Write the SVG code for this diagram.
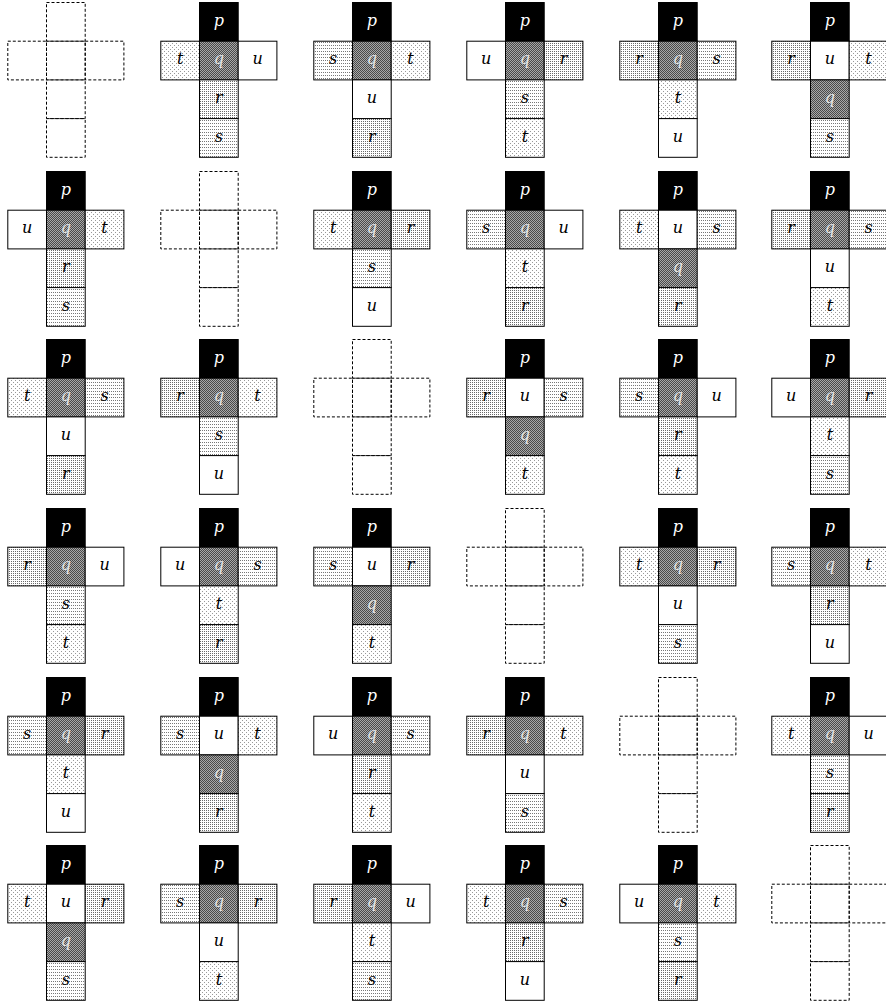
<svg xmlns="http://www.w3.org/2000/svg" width="886" height="1007" viewBox="0 0 886 1007">
<style>
.k{width:38.7px;height:38.7px;stroke:#000;stroke-width:1}
.d{width:38.7px;height:38.7px;fill:none;stroke:#000;stroke-width:1;stroke-dasharray:3 2}
.fp{fill:#000}.fq{fill:url(#pq)}.fr{fill:url(#pr)}.fs{fill:url(#ps)}.ft{fill:url(#pt)}.fu{fill:#fff}
text{font-family:"DejaVu Serif",serif;font-style:italic;font-size:16px;text-anchor:middle;fill:#000}
text.w{fill:#fff}text.g{fill:#e4e4e4}
</style>
<defs>
<pattern id="pq" x="0.5" y="0.5" width="2" height="2" patternUnits="userSpaceOnUse"><path d="M0 0h2v2h-2z" fill="#a8a8a8"/><path d="M0 0h1v1h-1zM1 1h1v1h-1z" fill="#4a4a4a"/></pattern>
<pattern id="pr" x="0.5" y="0.5" width="2" height="2" patternUnits="userSpaceOnUse"><path d="M0 0h2v2h-2z" fill="#fff"/><path d="M0 0h1v1h-1z" fill="#6a6a6a"/></pattern>
<pattern id="ps" x="0.5" y="0.5" width="2" height="3" patternUnits="userSpaceOnUse"><path d="M0 0h2v3h-2z" fill="#fff"/><path d="M0 0h1v1h-1z" fill="#777"/></pattern>
<pattern id="pt" x="0.5" y="0.5" width="4" height="4" patternUnits="userSpaceOnUse"><path d="M0 0h4v4h-4z" fill="#fff"/><path d="M0 0h1v1h-1zM2 2h1v1h-1z" fill="#999"/></pattern>
</defs>

<!-- Row 1 -->
<g id="r1c1" transform="translate(46.5,2.5)"><rect class="d"/><rect class="d" x="-38.7" y="38.7"/><rect class="d" y="38.7"/><rect class="d" x="38.7" y="38.7"/><rect class="d" y="77.4"/><rect class="d" y="116.1"/></g>
<g id="r1c2" transform="translate(199.5,2.5)"><rect class="k fp"/><rect class="k ft" x="-38.7" y="38.7"/><rect class="k fq" y="38.7"/><rect class="k fu" x="38.7" y="38.7"/><rect class="k fr" y="77.4"/><rect class="k fs" y="116.1"/><text class="w" x="19.35" y="23">p</text><text x="-19.35" y="61.7">t</text><text class="g" x="19.35" y="61.7">q</text><text x="58.05" y="61.7">u</text><text x="19.35" y="100.4">r</text><text x="19.35" y="139.1">s</text></g>
<g id="r1c3" transform="translate(352.5,2.5)"><rect class="k fp"/><rect class="k fs" x="-38.7" y="38.7"/><rect class="k fq" y="38.7"/><rect class="k ft" x="38.7" y="38.7"/><rect class="k fu" y="77.4"/><rect class="k fr" y="116.1"/><text class="w" x="19.35" y="23">p</text><text x="-19.35" y="61.7">s</text><text class="g" x="19.35" y="61.7">q</text><text x="58.05" y="61.7">t</text><text x="19.35" y="100.4">u</text><text x="19.35" y="139.1">r</text></g>
<g id="r1c4" transform="translate(505.5,2.5)"><rect class="k fp"/><rect class="k fu" x="-38.7" y="38.7"/><rect class="k fq" y="38.7"/><rect class="k fr" x="38.7" y="38.7"/><rect class="k fs" y="77.4"/><rect class="k ft" y="116.1"/><text class="w" x="19.35" y="23">p</text><text x="-19.35" y="61.7">u</text><text class="g" x="19.35" y="61.7">q</text><text x="58.05" y="61.7">r</text><text x="19.35" y="100.4">s</text><text x="19.35" y="139.1">t</text></g>
<g id="r1c5" transform="translate(658.5,2.5)"><rect class="k fp"/><rect class="k fr" x="-38.7" y="38.7"/><rect class="k fq" y="38.7"/><rect class="k fs" x="38.7" y="38.7"/><rect class="k ft" y="77.4"/><rect class="k fu" y="116.1"/><text class="w" x="19.35" y="23">p</text><text x="-19.35" y="61.7">r</text><text class="g" x="19.35" y="61.7">q</text><text x="58.05" y="61.7">s</text><text x="19.35" y="100.4">t</text><text x="19.35" y="139.1">u</text></g>
<g id="r1c6" transform="translate(810.5,2.5)"><rect class="k fp"/><rect class="k fr" x="-38.7" y="38.7"/><rect class="k fu" y="38.7"/><rect class="k ft" x="38.7" y="38.7"/><rect class="k fq" y="77.4"/><rect class="k fs" y="116.1"/><text class="w" x="19.35" y="23">p</text><text x="-19.35" y="61.7">r</text><text x="19.35" y="61.7">u</text><text x="58.05" y="61.7">t</text><text class="g" x="19.35" y="100.4">q</text><text x="19.35" y="139.1">s</text></g>

<!-- Row 2 -->
<g id="r2c1" transform="translate(46.5,171.5)"><rect class="k fp"/><rect class="k fu" x="-38.7" y="38.7"/><rect class="k fq" y="38.7"/><rect class="k ft" x="38.7" y="38.7"/><rect class="k fr" y="77.4"/><rect class="k fs" y="116.1"/><text class="w" x="19.35" y="23">p</text><text x="-19.35" y="61.7">u</text><text class="g" x="19.35" y="61.7">q</text><text x="58.05" y="61.7">t</text><text x="19.35" y="100.4">r</text><text x="19.35" y="139.1">s</text></g>
<g id="r2c2" transform="translate(199.5,171.5)"><rect class="d"/><rect class="d" x="-38.7" y="38.7"/><rect class="d" y="38.7"/><rect class="d" x="38.7" y="38.7"/><rect class="d" y="77.4"/><rect class="d" y="116.1"/></g>
<g id="r2c3" transform="translate(352.5,171.5)"><rect class="k fp"/><rect class="k ft" x="-38.7" y="38.7"/><rect class="k fq" y="38.7"/><rect class="k fr" x="38.7" y="38.7"/><rect class="k fs" y="77.4"/><rect class="k fu" y="116.1"/><text class="w" x="19.35" y="23">p</text><text x="-19.35" y="61.7">t</text><text class="g" x="19.35" y="61.7">q</text><text x="58.05" y="61.7">r</text><text x="19.35" y="100.4">s</text><text x="19.35" y="139.1">u</text></g>
<g id="r2c4" transform="translate(505.5,171.5)"><rect class="k fp"/><rect class="k fs" x="-38.7" y="38.7"/><rect class="k fq" y="38.7"/><rect class="k fu" x="38.7" y="38.7"/><rect class="k ft" y="77.4"/><rect class="k fr" y="116.1"/><text class="w" x="19.35" y="23">p</text><text x="-19.35" y="61.7">s</text><text class="g" x="19.35" y="61.7">q</text><text x="58.05" y="61.7">u</text><text x="19.35" y="100.4">t</text><text x="19.35" y="139.1">r</text></g>
<g id="r2c5" transform="translate(658.5,171.5)"><rect class="k fp"/><rect class="k ft" x="-38.7" y="38.7"/><rect class="k fu" y="38.7"/><rect class="k fs" x="38.7" y="38.7"/><rect class="k fq" y="77.4"/><rect class="k fr" y="116.1"/><text class="w" x="19.35" y="23">p</text><text x="-19.35" y="61.7">t</text><text x="19.35" y="61.7">u</text><text x="58.05" y="61.7">s</text><text class="g" x="19.35" y="100.4">q</text><text x="19.35" y="139.1">r</text></g>
<g id="r2c6" transform="translate(810.5,171.5)"><rect class="k fp"/><rect class="k fr" x="-38.7" y="38.7"/><rect class="k fq" y="38.7"/><rect class="k fs" x="38.7" y="38.7"/><rect class="k fu" y="77.4"/><rect class="k ft" y="116.1"/><text class="w" x="19.35" y="23">p</text><text x="-19.35" y="61.7">r</text><text class="g" x="19.35" y="61.7">q</text><text x="58.05" y="61.7">s</text><text x="19.35" y="100.4">u</text><text x="19.35" y="139.1">t</text></g>

<!-- Row 3 -->
<g id="r3c1" transform="translate(46.5,339.5)"><rect class="k fp"/><rect class="k ft" x="-38.7" y="38.7"/><rect class="k fq" y="38.7"/><rect class="k fs" x="38.7" y="38.7"/><rect class="k fu" y="77.4"/><rect class="k fr" y="116.1"/><text class="w" x="19.35" y="23">p</text><text x="-19.35" y="61.7">t</text><text class="g" x="19.35" y="61.7">q</text><text x="58.05" y="61.7">s</text><text x="19.35" y="100.4">u</text><text x="19.35" y="139.1">r</text></g>
<g id="r3c2" transform="translate(199.5,339.5)"><rect class="k fp"/><rect class="k fr" x="-38.7" y="38.7"/><rect class="k fq" y="38.7"/><rect class="k ft" x="38.7" y="38.7"/><rect class="k fs" y="77.4"/><rect class="k fu" y="116.1"/><text class="w" x="19.35" y="23">p</text><text x="-19.35" y="61.7">r</text><text class="g" x="19.35" y="61.7">q</text><text x="58.05" y="61.7">t</text><text x="19.35" y="100.4">s</text><text x="19.35" y="139.1">u</text></g>
<g id="r3c3" transform="translate(352.5,339.5)"><rect class="d"/><rect class="d" x="-38.7" y="38.7"/><rect class="d" y="38.7"/><rect class="d" x="38.7" y="38.7"/><rect class="d" y="77.4"/><rect class="d" y="116.1"/></g>
<g id="r3c4" transform="translate(505.5,339.5)"><rect class="k fp"/><rect class="k fr" x="-38.7" y="38.7"/><rect class="k fu" y="38.7"/><rect class="k fs" x="38.7" y="38.7"/><rect class="k fq" y="77.4"/><rect class="k ft" y="116.1"/><text class="w" x="19.35" y="23">p</text><text x="-19.35" y="61.7">r</text><text x="19.35" y="61.7">u</text><text x="58.05" y="61.7">s</text><text class="g" x="19.35" y="100.4">q</text><text x="19.35" y="139.1">t</text></g>
<g id="r3c5" transform="translate(658.5,339.5)"><rect class="k fp"/><rect class="k fs" x="-38.7" y="38.7"/><rect class="k fq" y="38.7"/><rect class="k fu" x="38.7" y="38.7"/><rect class="k fr" y="77.4"/><rect class="k ft" y="116.1"/><text class="w" x="19.35" y="23">p</text><text x="-19.35" y="61.7">s</text><text class="g" x="19.35" y="61.7">q</text><text x="58.05" y="61.7">u</text><text x="19.35" y="100.4">r</text><text x="19.35" y="139.1">t</text></g>
<g id="r3c6" transform="translate(810.5,339.5)"><rect class="k fp"/><rect class="k fu" x="-38.7" y="38.7"/><rect class="k fq" y="38.7"/><rect class="k fr" x="38.7" y="38.7"/><rect class="k ft" y="77.4"/><rect class="k fs" y="116.1"/><text class="w" x="19.35" y="23">p</text><text x="-19.35" y="61.7">u</text><text class="g" x="19.35" y="61.7">q</text><text x="58.05" y="61.7">r</text><text x="19.35" y="100.4">t</text><text x="19.35" y="139.1">s</text></g>

<!-- Row 4 -->
<g id="r4c1" transform="translate(46.5,508.5)"><rect class="k fp"/><rect class="k fr" x="-38.7" y="38.7"/><rect class="k fq" y="38.7"/><rect class="k fu" x="38.7" y="38.7"/><rect class="k fs" y="77.4"/><rect class="k ft" y="116.1"/><text class="w" x="19.35" y="23">p</text><text x="-19.35" y="61.7">r</text><text class="g" x="19.35" y="61.7">q</text><text x="58.05" y="61.7">u</text><text x="19.35" y="100.4">s</text><text x="19.35" y="139.1">t</text></g>
<g id="r4c2" transform="translate(199.5,508.5)"><rect class="k fp"/><rect class="k fu" x="-38.7" y="38.7"/><rect class="k fq" y="38.7"/><rect class="k fs" x="38.7" y="38.7"/><rect class="k ft" y="77.4"/><rect class="k fr" y="116.1"/><text class="w" x="19.35" y="23">p</text><text x="-19.35" y="61.7">u</text><text class="g" x="19.35" y="61.7">q</text><text x="58.05" y="61.7">s</text><text x="19.35" y="100.4">t</text><text x="19.35" y="139.1">r</text></g>
<g id="r4c3" transform="translate(352.5,508.5)"><rect class="k fp"/><rect class="k fs" x="-38.7" y="38.7"/><rect class="k fu" y="38.7"/><rect class="k fr" x="38.7" y="38.7"/><rect class="k fq" y="77.4"/><rect class="k ft" y="116.1"/><text class="w" x="19.35" y="23">p</text><text x="-19.35" y="61.7">s</text><text x="19.35" y="61.7">u</text><text x="58.05" y="61.7">r</text><text class="g" x="19.35" y="100.4">q</text><text x="19.35" y="139.1">t</text></g>
<g id="r4c4" transform="translate(505.5,508.5)"><rect class="d"/><rect class="d" x="-38.7" y="38.7"/><rect class="d" y="38.7"/><rect class="d" x="38.7" y="38.7"/><rect class="d" y="77.4"/><rect class="d" y="116.1"/></g>
<g id="r4c5" transform="translate(658.5,508.5)"><rect class="k fp"/><rect class="k ft" x="-38.7" y="38.7"/><rect class="k fq" y="38.7"/><rect class="k fr" x="38.7" y="38.7"/><rect class="k fu" y="77.4"/><rect class="k fs" y="116.1"/><text class="w" x="19.35" y="23">p</text><text x="-19.35" y="61.7">t</text><text class="g" x="19.35" y="61.7">q</text><text x="58.05" y="61.7">r</text><text x="19.35" y="100.4">u</text><text x="19.35" y="139.1">s</text></g>
<g id="r4c6" transform="translate(810.5,508.5)"><rect class="k fp"/><rect class="k fs" x="-38.7" y="38.7"/><rect class="k fq" y="38.7"/><rect class="k ft" x="38.7" y="38.7"/><rect class="k fr" y="77.4"/><rect class="k fu" y="116.1"/><text class="w" x="19.35" y="23">p</text><text x="-19.35" y="61.7">s</text><text class="g" x="19.35" y="61.7">q</text><text x="58.05" y="61.7">t</text><text x="19.35" y="100.4">r</text><text x="19.35" y="139.1">u</text></g>

<!-- Row 5 -->
<g id="r5c1" transform="translate(46.5,677.5)"><rect class="k fp"/><rect class="k fs" x="-38.7" y="38.7"/><rect class="k fq" y="38.7"/><rect class="k fr" x="38.7" y="38.7"/><rect class="k ft" y="77.4"/><rect class="k fu" y="116.1"/><text class="w" x="19.35" y="23">p</text><text x="-19.35" y="61.7">s</text><text class="g" x="19.35" y="61.7">q</text><text x="58.05" y="61.7">r</text><text x="19.35" y="100.4">t</text><text x="19.35" y="139.1">u</text></g>
<g id="r5c2" transform="translate(199.5,677.5)"><rect class="k fp"/><rect class="k fs" x="-38.7" y="38.7"/><rect class="k fu" y="38.7"/><rect class="k ft" x="38.7" y="38.7"/><rect class="k fq" y="77.4"/><rect class="k fr" y="116.1"/><text class="w" x="19.35" y="23">p</text><text x="-19.35" y="61.7">s</text><text x="19.35" y="61.7">u</text><text x="58.05" y="61.7">t</text><text class="g" x="19.35" y="100.4">q</text><text x="19.35" y="139.1">r</text></g>
<g id="r5c3" transform="translate(352.5,677.5)"><rect class="k fp"/><rect class="k fu" x="-38.7" y="38.7"/><rect class="k fq" y="38.7"/><rect class="k fs" x="38.7" y="38.7"/><rect class="k fr" y="77.4"/><rect class="k ft" y="116.1"/><text class="w" x="19.35" y="23">p</text><text x="-19.35" y="61.7">u</text><text class="g" x="19.35" y="61.7">q</text><text x="58.05" y="61.7">s</text><text x="19.35" y="100.4">r</text><text x="19.35" y="139.1">t</text></g>
<g id="r5c4" transform="translate(505.5,677.5)"><rect class="k fp"/><rect class="k fr" x="-38.7" y="38.7"/><rect class="k fq" y="38.7"/><rect class="k ft" x="38.7" y="38.7"/><rect class="k fu" y="77.4"/><rect class="k fs" y="116.1"/><text class="w" x="19.35" y="23">p</text><text x="-19.35" y="61.7">r</text><text class="g" x="19.35" y="61.7">q</text><text x="58.05" y="61.7">t</text><text x="19.35" y="100.4">u</text><text x="19.35" y="139.1">s</text></g>
<g id="r5c5" transform="translate(658.5,677.5)"><rect class="d"/><rect class="d" x="-38.7" y="38.7"/><rect class="d" y="38.7"/><rect class="d" x="38.7" y="38.7"/><rect class="d" y="77.4"/><rect class="d" y="116.1"/></g>
<g id="r5c6" transform="translate(810.5,677.5)"><rect class="k fp"/><rect class="k ft" x="-38.7" y="38.7"/><rect class="k fq" y="38.7"/><rect class="k fu" x="38.7" y="38.7"/><rect class="k fs" y="77.4"/><rect class="k fr" y="116.1"/><text class="w" x="19.35" y="23">p</text><text x="-19.35" y="61.7">t</text><text class="g" x="19.35" y="61.7">q</text><text x="58.05" y="61.7">u</text><text x="19.35" y="100.4">s</text><text x="19.35" y="139.1">r</text></g>

<!-- Row 6 -->
<g id="r6c1" transform="translate(46.5,845.5)"><rect class="k fp"/><rect class="k ft" x="-38.7" y="38.7"/><rect class="k fu" y="38.7"/><rect class="k fr" x="38.7" y="38.7"/><rect class="k fq" y="77.4"/><rect class="k fs" y="116.1"/><text class="w" x="19.35" y="23">p</text><text x="-19.35" y="61.7">t</text><text x="19.35" y="61.7">u</text><text x="58.05" y="61.7">r</text><text class="g" x="19.35" y="100.4">q</text><text x="19.35" y="139.1">s</text></g>
<g id="r6c2" transform="translate(199.5,845.5)"><rect class="k fp"/><rect class="k fs" x="-38.7" y="38.7"/><rect class="k fq" y="38.7"/><rect class="k fr" x="38.7" y="38.7"/><rect class="k fu" y="77.4"/><rect class="k ft" y="116.1"/><text class="w" x="19.35" y="23">p</text><text x="-19.35" y="61.7">s</text><text class="g" x="19.35" y="61.7">q</text><text x="58.05" y="61.7">r</text><text x="19.35" y="100.4">u</text><text x="19.35" y="139.1">t</text></g>
<g id="r6c3" transform="translate(352.5,845.5)"><rect class="k fp"/><rect class="k fr" x="-38.7" y="38.7"/><rect class="k fq" y="38.7"/><rect class="k fu" x="38.7" y="38.7"/><rect class="k ft" y="77.4"/><rect class="k fs" y="116.1"/><text class="w" x="19.35" y="23">p</text><text x="-19.35" y="61.7">r</text><text class="g" x="19.35" y="61.7">q</text><text x="58.05" y="61.7">u</text><text x="19.35" y="100.4">t</text><text x="19.35" y="139.1">s</text></g>
<g id="r6c4" transform="translate(505.5,845.5)"><rect class="k fp"/><rect class="k ft" x="-38.7" y="38.7"/><rect class="k fq" y="38.7"/><rect class="k fs" x="38.7" y="38.7"/><rect class="k fr" y="77.4"/><rect class="k fu" y="116.1"/><text class="w" x="19.35" y="23">p</text><text x="-19.35" y="61.7">t</text><text class="g" x="19.35" y="61.7">q</text><text x="58.05" y="61.7">s</text><text x="19.35" y="100.4">r</text><text x="19.35" y="139.1">u</text></g>
<g id="r6c5" transform="translate(658.5,845.5)"><rect class="k fp"/><rect class="k fu" x="-38.7" y="38.7"/><rect class="k fq" y="38.7"/><rect class="k ft" x="38.7" y="38.7"/><rect class="k fs" y="77.4"/><rect class="k fr" y="116.1"/><text class="w" x="19.35" y="23">p</text><text x="-19.35" y="61.7">u</text><text class="g" x="19.35" y="61.7">q</text><text x="58.05" y="61.7">t</text><text x="19.35" y="100.4">s</text><text x="19.35" y="139.1">r</text></g>
<g id="r6c6" transform="translate(810.5,845.5)"><rect class="d"/><rect class="d" x="-38.7" y="38.7"/><rect class="d" y="38.7"/><rect class="d" x="38.7" y="38.7"/><rect class="d" y="77.4"/><rect class="d" y="116.1"/></g>
</svg>
